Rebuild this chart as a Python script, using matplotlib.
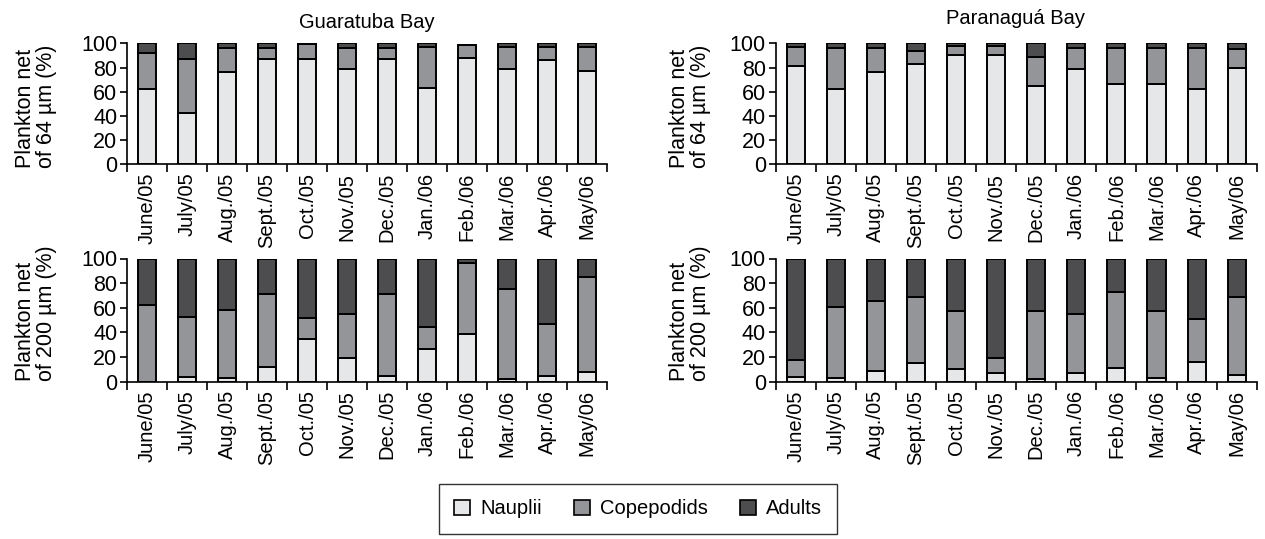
import matplotlib
matplotlib.use("Agg")
import matplotlib.pyplot as plt
import numpy as np
from matplotlib.patches import Patch

plt.rcParams['font.family'] = ['Liberation Sans', 'DejaVu Sans']

months = ["June/05", "July/05", "Aug./05", "Sept./05", "Oct./05", "Nov./05",
          "Dec./05", "Jan./06", "Feb./06", "Mar./06", "Apr./06", "May/06"]
stages = ["Nauplii", "Copepodids", "Adults"]
colors = ["#e6e7e8", "#939598", "#4d4d4f"]

# Guaratuba Bay, 64 um
g64_nauplii = [62, 42, 76, 87, 87, 79, 87, 63, 88, 79, 86, 77]
g64_copepodids = [30, 45, 20, 9, 12.5, 17, 9, 34, 10.5, 18, 11, 20]
g64_adults = [8, 13, 4, 4, 0.5, 4, 4, 3, 0, 3, 3, 3]
# Paranagua Bay, 64 um
p64_nauplii = [81, 62, 76, 83, 90, 90, 65, 79, 66, 66, 62, 80]
p64_copepodids = [16, 34, 20, 11, 7.5, 7.5, 24, 17, 30, 30, 34, 15.5]
p64_adults = [3, 4, 4, 6, 2.5, 2.5, 11, 4, 4, 4, 4, 4.5]
# Guaratuba Bay, 200 um
g200_nauplii = [0, 3.5, 3.3, 12, 35, 19, 4.6, 26.5, 39, 2.4, 4.6, 8.2]
g200_copepodids = [62, 49, 55, 59, 17, 36, 66.4, 17.5, 57, 73, 42, 76.6]
g200_adults = [38, 47.5, 41.7, 29, 48, 45, 29, 56, 4, 24.6, 53.4, 15.2]
# Paranagua Bay, 200 um
p200_nauplii = [3.6, 2.7, 8.5, 15, 10, 7, 2, 7, 11.5, 3.3, 15.6, 5.5]
p200_copepodids = [13.7, 58, 57.3, 53.5, 47.3, 12.2, 55.3, 48, 61, 54, 35, 63.5]
p200_adults = [82.7, 39.3, 34.2, 31.5, 42.7, 80.8, 42.7, 45, 27.5, 42.7, 49.4, 31]

titles = ["Guaratuba Bay", "Paranaguá Bay"]
ylabels = ["Plankton net\nof 64 µm (%)", "Plankton net\nof 200 µm (%)"]

W, H = 1265, 539
fig = plt.figure(figsize=(W / 100, H / 100), dpi=100)

panels = [
    ((127, 43.3, 607, 164.3), (g64_nauplii, g64_copepodids, g64_adults), 0),
    ((775.7, 43.3, 1256.7, 164.3), (p64_nauplii, p64_copepodids, p64_adults), 0),
    ((127, 258.5, 607, 381.7), (g200_nauplii, g200_copepodids, g200_adults), 1),
    ((775.7, 258.5, 1256.7, 381.7), (p200_nauplii, p200_copepodids, p200_adults), 1),
]

x = np.arange(len(months))
for (l, t, r, b), series, row in panels:
    ax = fig.add_axes([l / W, 1 - b / H, (r - l) / W, (b - t) / H])
    bottom = np.zeros(len(months))
    for vals, c in zip(series, colors):
        vals = np.array(vals, dtype=float)
        ax.bar(x, vals, width=0.45, bottom=bottom, color=c, edgecolor="black",
               linewidth=1.4, zorder=2)
        bottom += vals
    ax.set_xlim(-0.5, len(months) - 0.5)
    ax.set_ylim(0, 100)
    for s in ["top", "right"]:
        ax.spines[s].set_visible(False)
    for s in ["left", "bottom"]:
        ax.spines[s].set_linewidth(1.2)
    ax.set_yticks([0, 20, 40, 60, 80, 100])
    ax.tick_params(axis="y", direction="out", length=5, width=1.2, labelsize=15.5, pad=2)
    ax.set_xticks(x)
    ax.set_xticklabels(months, rotation=90, fontsize=14.5)
    ax.tick_params(axis="x", which="major", length=0, pad=6)
    ax.set_xticks(np.arange(-0.5, len(months)), minor=True)
    ax.tick_params(axis="x", which="minor", direction="out", length=6, width=1.2)

# titles
fig.text(367 / W, 1 - 22 / H, titles[0], ha="center", va="center", fontsize=14.5)
fig.text(1015 / W, 1 - 19 / H, titles[1], ha="center", va="center", fontsize=14.5)

# y labels
for xc in (36, 690):
    fig.text(xc / W, 1 - 168 / H, ylabels[0], rotation=90, ha="center", va="bottom",
             multialignment="left", fontsize=15.5, linespacing=1.05)
    fig.text(xc / W, 1 - 381 / H, ylabels[1], rotation=90, ha="center", va="bottom",
             multialignment="left", fontsize=15.5, linespacing=1.05)

handles = [Patch(facecolor=c, edgecolor="black", linewidth=1.2) for c in colors]
leg = fig.legend(handles, stages, loc="center", bbox_to_anchor=(638 / W, 1 - 509 / H),
                 ncol=3, frameon=True, fancybox=False, edgecolor="black", fontsize=14.5,
                 handlelength=0.8, handleheight=0.8, handletextpad=0.5,
                 columnspacing=1.6, borderpad=0.75)
leg.get_frame().set_linewidth(1.0)

fig.savefig("out.png", dpi=100)
